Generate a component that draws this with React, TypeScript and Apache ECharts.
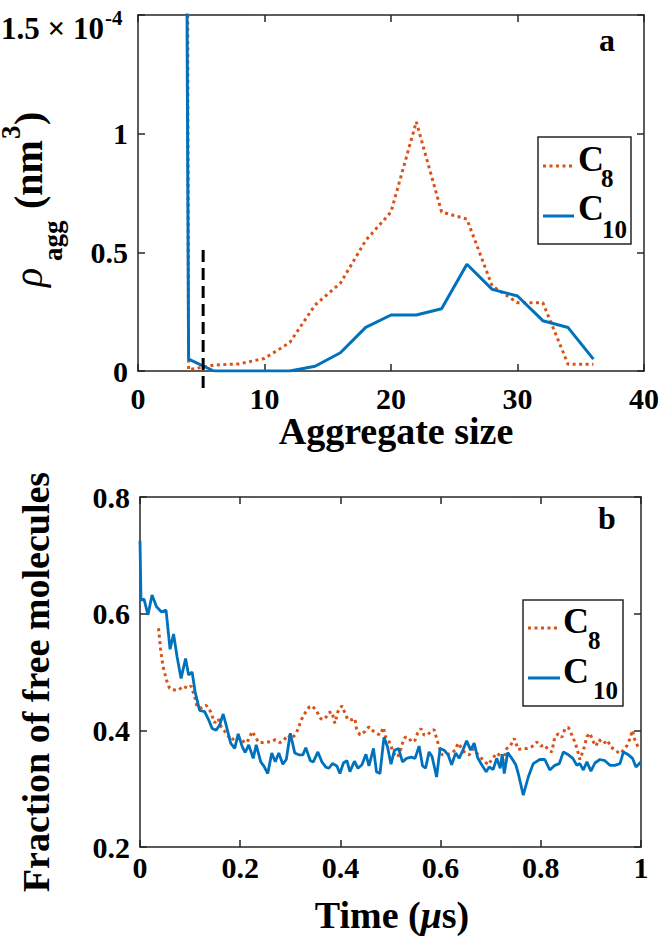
import React, { useEffect, useRef } from 'react';
import * as echarts from 'echarts';

// ---------- Panel a: aggregate size distribution (values in units of 1e-4 nm^-3) ----------
const SIZES = [3, 4, 6, 8, 10, 12, 14, 16, 18, 20, 22, 24, 26, 28, 30, 32, 34, 36];
const C8_RHO = [21, 0.005, 0.025, 0.03, 0.053, 0.12, 0.278, 0.37, 0.55, 0.67, 1.05, 0.67, 0.64, 0.358, 0.288, 0.288, 0.028, 0.028];
const C10_RHO = [12, 0.05, 0, 0, 0, 0, 0.02, 0.077, 0.184, 0.236, 0.236, 0.262, 0.45, 0.344, 0.316, 0.212, 0.183, 0.05];
const DIVIDER_X = 5.15;
const DIVIDER_Y = [0.51, -0.08];
const A_X_TICKS = [0, 10, 20, 30, 40];
const A_Y_TICKS = [0, 0.5, 1, 1.5];

// ---------- Panel b: fraction of free molecules vs time (us) ----------
const T_C10 = [0, 0.002, 0.008, 0.016, 0.024, 0.033, 0.043, 0.052, 0.06, 0.067, 0.074, 0.082, 0.091, 0.097, 0.104, 0.11, 0.119, 0.129, 0.137, 0.144, 0.152, 0.159, 0.166, 0.172, 0.181, 0.189, 0.196, 0.204, 0.21, 0.217, 0.226, 0.232, 0.241, 0.247, 0.255, 0.263, 0.27, 0.277, 0.285, 0.292, 0.3, 0.309, 0.317, 0.325, 0.331, 0.34, 0.346, 0.355, 0.363, 0.371, 0.377, 0.384, 0.393, 0.399, 0.406, 0.413, 0.419, 0.428, 0.435, 0.443, 0.451, 0.457, 0.466, 0.472, 0.479, 0.487, 0.494, 0.501, 0.508, 0.516, 0.524, 0.532, 0.541, 0.549, 0.557, 0.564, 0.57, 0.577, 0.583, 0.592, 0.599, 0.607, 0.615, 0.622, 0.63, 0.637, 0.643, 0.652, 0.66, 0.667, 0.674, 0.682, 0.691, 0.697, 0.705, 0.712, 0.719, 0.723, 0.727, 0.734, 0.742, 0.75, 0.755, 0.765, 0.775, 0.785, 0.798, 0.808, 0.818, 0.828, 0.837, 0.845, 0.855, 0.864, 0.872, 0.878, 0.885, 0.892, 0.9, 0.908, 0.918, 0.928, 0.938, 0.948, 0.958, 0.965, 0.975, 0.983, 0.99, 1.0];
const F_C10 = [0.725, 0.623, 0.625, 0.598, 0.632, 0.612, 0.603, 0.606, 0.539, 0.565, 0.526, 0.489, 0.523, 0.495, 0.5, 0.466, 0.434, 0.432, 0.418, 0.403, 0.4, 0.409, 0.428, 0.409, 0.378, 0.369, 0.394, 0.372, 0.362, 0.375, 0.352, 0.375, 0.346, 0.339, 0.326, 0.361, 0.346, 0.361, 0.342, 0.35, 0.395, 0.361, 0.358, 0.358, 0.37, 0.348, 0.346, 0.363, 0.346, 0.337, 0.335, 0.343, 0.339, 0.326, 0.344, 0.348, 0.329, 0.347, 0.335, 0.341, 0.359, 0.339, 0.369, 0.329, 0.326, 0.388, 0.372, 0.342, 0.366, 0.369, 0.346, 0.352, 0.354, 0.352, 0.373, 0.339, 0.335, 0.363, 0.355, 0.32, 0.369, 0.366, 0.358, 0.341, 0.361, 0.352, 0.363, 0.382, 0.366, 0.378, 0.353, 0.341, 0.329, 0.337, 0.333, 0.352, 0.335, 0.359, 0.326, 0.362, 0.352, 0.341, 0.326, 0.289, 0.32, 0.343, 0.35, 0.35, 0.332, 0.34, 0.343, 0.363, 0.358, 0.352, 0.34, 0.343, 0.332, 0.346, 0.33, 0.344, 0.35, 0.348, 0.34, 0.34, 0.343, 0.363, 0.358, 0.352, 0.337, 0.346];
const T_C8 = [0.037, 0.041, 0.046, 0.053, 0.059, 0.069, 0.077, 0.086, 0.096, 0.102, 0.109, 0.114, 0.122, 0.132, 0.141, 0.149, 0.156, 0.162, 0.172, 0.182, 0.192, 0.202, 0.209, 0.216, 0.224, 0.23, 0.237, 0.246, 0.254, 0.262, 0.27, 0.279, 0.287, 0.295, 0.303, 0.312, 0.322, 0.331, 0.338, 0.344, 0.353, 0.361, 0.369, 0.376, 0.383, 0.389, 0.395, 0.403, 0.409, 0.415, 0.423, 0.429, 0.432, 0.439, 0.449, 0.457, 0.462, 0.47, 0.479, 0.486, 0.49, 0.496, 0.501, 0.506, 0.514, 0.519, 0.524, 0.529, 0.536, 0.542, 0.549, 0.554, 0.561, 0.567, 0.574, 0.581, 0.587, 0.592, 0.597, 0.603, 0.612, 0.622, 0.629, 0.635, 0.642, 0.649, 0.657, 0.665, 0.675, 0.685, 0.695, 0.704, 0.712, 0.72, 0.725, 0.732, 0.739, 0.747, 0.755, 0.763, 0.773, 0.782, 0.792, 0.8, 0.808, 0.815, 0.822, 0.828, 0.835, 0.842, 0.848, 0.855, 0.862, 0.869, 0.874, 0.878, 0.885, 0.892, 0.898, 0.905, 0.91, 0.916, 0.925, 0.933, 0.94, 0.948, 0.957, 0.965, 0.973, 0.978, 0.983, 0.988, 0.994, 1.0];
const F_C8 = [0.575, 0.54, 0.509, 0.486, 0.472, 0.469, 0.469, 0.476, 0.472, 0.476, 0.458, 0.44, 0.438, 0.443, 0.432, 0.413, 0.42, 0.406, 0.395, 0.383, 0.389, 0.386, 0.378, 0.383, 0.398, 0.389, 0.379, 0.379, 0.38, 0.38, 0.384, 0.379, 0.383, 0.392, 0.386, 0.395, 0.418, 0.432, 0.44, 0.442, 0.432, 0.42, 0.419, 0.43, 0.432, 0.412, 0.432, 0.442, 0.43, 0.418, 0.418, 0.42, 0.403, 0.392, 0.398, 0.406, 0.401, 0.396, 0.392, 0.405, 0.389, 0.383, 0.373, 0.361, 0.354, 0.363, 0.378, 0.388, 0.388, 0.38, 0.383, 0.395, 0.403, 0.392, 0.392, 0.399, 0.401, 0.386, 0.372, 0.358, 0.358, 0.361, 0.366, 0.378, 0.369, 0.361, 0.358, 0.368, 0.358, 0.349, 0.341, 0.352, 0.361, 0.356, 0.349, 0.369, 0.373, 0.386, 0.367, 0.369, 0.369, 0.372, 0.38, 0.373, 0.375, 0.366, 0.363, 0.389, 0.394, 0.388, 0.402, 0.405, 0.392, 0.378, 0.363, 0.35, 0.366, 0.389, 0.395, 0.38, 0.373, 0.384, 0.377, 0.383, 0.371, 0.367, 0.36, 0.366, 0.375, 0.386, 0.4, 0.383, 0.372, 0.375];
const B_X_TICKS = [0, 0.2, 0.4, 0.6, 0.8, 1];
const B_Y_TICKS = [0.2, 0.4, 0.6, 0.8];

const FONT = '"Liberation Serif", "Times New Roman", serif';
const AX = '#262626';
const ORANGE = '#D95319';
const BLUE = '#0072BD';
const DOT = [3, 3.5];

const lbl = (size: number, weight = 'bold', style = 'normal') =>
  `${style} ${weight} ${size}px ${FONT}`;

function makeX(gridIndex: number, min: number, max: number, interval: number, position: 'top' | 'bottom', margin: number) {
  return {
    type: 'value', gridIndex, min, max, interval, position,
    axisLine: { show: true, onZero: false, lineStyle: { color: AX, width: 1.5 } },
    axisTick: { show: true, inside: true, length: 7, lineStyle: { color: AX, width: 1.5 } },
    axisLabel: {
      show: position === 'bottom', margin, color: '#000', fontSize: 30, fontWeight: 'bold', fontFamily: FONT,
      formatter: (v: number) => String(Math.round(v * 10) / 10),
    },
    splitLine: { show: false },
  };
}
function makeY(gridIndex: number, min: number, max: number, interval: number, position: 'left' | 'right', hideTop: boolean) {
  return {
    type: 'value', gridIndex, min, max, interval, position,
    axisLine: { show: true, onZero: false, lineStyle: { color: AX, width: 1.5 } },
    axisTick: { show: true, inside: true, length: 7, lineStyle: { color: AX, width: 1.5 } },
    axisLabel: {
      show: position === 'left', margin: 10, color: '#000', fontSize: 30, fontWeight: 'bold', fontFamily: FONT,
      formatter: (v: number) => (hideTop && Math.abs(v - max) < 1e-9 ? '' : String(Math.round(v * 10) / 10)),
    },
    splitLine: { show: false },
  };
}

const txt = (x: number, y: number, text: string, font: string, align = 'left', extra: any = {}) => ({
  type: 'text', x, y, z: 100,
  style: { text, font, fill: '#000', textAlign: align, textVerticalAlign: 'middle' },
  ...extra,
});
const seg = (x1: number, y1: number, x2: number, y2: number, color: string, dash?: number[]) => ({
  type: 'line', z: 100,
  shape: { x1, y1, x2, y2 },
  style: { stroke: color, lineWidth: 3, lineDash: dash || null },
});
const box = (x: number, y: number, w: number, h: number) => ({
  type: 'rect', z: 99, shape: { x, y, width: w, height: h },
  style: { fill: '#fff', stroke: AX, lineWidth: 1.5 },
});

export default function App() {
  const ref = useRef<HTMLDivElement>(null);
  useEffect(() => {
    const chart = echarts.init(ref.current!, null, { renderer: 'svg' });
    const option: any = {
      animation: false,
      backgroundColor: '#fff',
      textStyle: { fontFamily: FONT },
      grid: [
        { left: 138, top: 15, width: 506, height: 356 },
        { left: 140, top: 497, width: 501, height: 350 },
      ],
      xAxis: [
        makeX(0, A_X_TICKS[0], A_X_TICKS[A_X_TICKS.length - 1], 10, 'bottom', 12),
        makeX(0, A_X_TICKS[0], A_X_TICKS[A_X_TICKS.length - 1], 10, 'top', 12),
        makeX(1, B_X_TICKS[0], B_X_TICKS[B_X_TICKS.length - 1], 0.2, 'bottom', 5),
        makeX(1, B_X_TICKS[0], B_X_TICKS[B_X_TICKS.length - 1], 0.2, 'top', 5),
      ],
      yAxis: [
        makeY(0, A_Y_TICKS[0], A_Y_TICKS[A_Y_TICKS.length - 1], 0.5, 'left', true),
        makeY(0, A_Y_TICKS[0], A_Y_TICKS[A_Y_TICKS.length - 1], 0.5, 'right', true),
        makeY(1, B_Y_TICKS[0], B_Y_TICKS[B_Y_TICKS.length - 1], 0.2, 'left', false),
        makeY(1, B_Y_TICKS[0], B_Y_TICKS[B_Y_TICKS.length - 1], 0.2, 'right', false),
      ],
      series: [
        {
          name: 'C8a', type: 'line', xAxisIndex: 0, yAxisIndex: 0, symbol: 'none', clip: true, z: 3,
          data: SIZES.map((s, i) => [s, C8_RHO[i]]),
          lineStyle: { color: ORANGE, width: 3, type: DOT },
        },
        {
          name: 'C10a', type: 'line', xAxisIndex: 0, yAxisIndex: 0, symbol: 'none', clip: true, z: 4,
          data: SIZES.map((s, i) => [s, C10_RHO[i]]),
          lineStyle: { color: BLUE, width: 3 },
        },
        {
          name: 'divider', type: 'line', xAxisIndex: 0, yAxisIndex: 0, symbol: 'none', clip: false, z: 5,
          data: DIVIDER_Y.map((y) => [DIVIDER_X, y]),
          lineStyle: { color: '#000', width: 3, type: [12, 6] },
        },
        {
          name: 'C8b', type: 'line', xAxisIndex: 2, yAxisIndex: 2, symbol: 'none', clip: true, z: 3,
          data: T_C8.map((t, i) => [t, F_C8[i]]),
          lineStyle: { color: ORANGE, width: 3, type: DOT },
        },
        {
          name: 'C10b', type: 'line', xAxisIndex: 2, yAxisIndex: 2, symbol: 'none', clip: true, z: 4,
          data: T_C10.map((t, i) => [t, F_C10[i]]),
          lineStyle: { color: BLUE, width: 2.8 },
        },
      ],
      graphic: [
        // panel letters
        txt(607, 40, 'a', lbl(32), 'center'),
        txt(607, 518, 'b', lbl(32), 'center'),
        // top tick label with exponent
        txt(104, 28, '1.5 × 10', lbl(31), 'right'),
        txt(105, 18, '-4', lbl(21), 'left'),
        // axis titles
        txt(396, 431, 'Aggregate size', lbl(38), 'center'),
        {
          type: 'text', x: 392, y: 915, z: 100,
          style: {
            text: '{b|Time (}{i|μ}{b|s)}', fill: '#000', textAlign: 'center', textVerticalAlign: 'middle',
            rich: {
              b: { fontSize: 38, fontWeight: 'bold', fontFamily: FONT, fill: '#000' },
              i: { fontSize: 38, fontWeight: 'bold', fontStyle: 'italic', fontFamily: FONT, fill: '#000' },
            },
          },
        },
        txt(36, 682, 'Fraction of free molecules', lbl(38), 'center', { rotation: Math.PI / 2 }),
        {
          type: 'group', x: 41, y: 287, rotation: Math.PI / 2, z: 100,
          children: [
            txt(0, -13, 'ρ', lbl(40, 'normal', 'italic')),
            txt(26, 12, 'agg', lbl(27)),
            txt(78, -13, '(nm', lbl(40)),
            txt(148, -30, '3', lbl(27)),
            txt(162, -13, ')', lbl(40)),
          ],
        },
        // legend a
        box(538, 137, 93, 107),
        seg(543, 166, 575, 166, ORANGE, DOT),
        txt(578, 159, 'C', lbl(36)),
        txt(601, 178, '8', lbl(25)),
        seg(543, 216, 574, 216, BLUE),
        txt(578, 208, 'C', lbl(36)),
        txt(602, 229, '10', lbl(25)),
        // legend b
        box(523, 600, 100, 106),
        seg(528, 628, 557, 628, ORANGE, DOT),
        txt(563, 621, 'C', lbl(36)),
        txt(588, 640, '8', lbl(25)),
        seg(528, 678, 560, 678, BLUE),
        txt(563, 671, 'C', lbl(36)),
        txt(593, 690, '10', lbl(25)),
      ],
    };
    chart.setOption(option);
    return () => chart.dispose();
  }, []);
  return (
    <div
      ref={ref}
      style={{ position: 'fixed', left: 0, top: 0, width: 664, height: 936, background: '#fff' }}
    />
  );
}
